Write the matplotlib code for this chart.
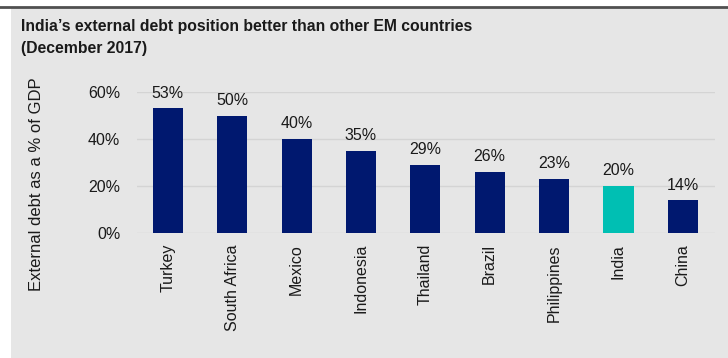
import matplotlib.pyplot as plt
from matplotlib.patches import Rectangle
from matplotlib.lines import Line2D

#---- data ----
countries = ['Turkey', 'South Africa', 'Mexico', 'Indonesia', 'Thailand',
             'Brazil', 'Philippines', 'India', 'China']
debt_pct = [53, 50, 40, 35, 29, 26, 23, 20, 14]
highlight = 'India'
yticks = [0, 20, 40, 60]

navy = '#00186f'
teal = '#00bfb3'
bg = '#e6e6e6'
txt = '#1a1a1a'

plt.rcParams['font.family'] = ['Liberation Sans', 'DejaVu Sans']

fig = plt.figure(figsize=(7.28, 3.58), dpi=100)
fig.patch.set_facecolor('white')

# grey panel + dark top rule
fig.patches.append(Rectangle((11/728, 0), 1 - 11/728, 1 - 8/358,
                             transform=fig.transFigure, facecolor=bg,
                             edgecolor='none', zorder=-10))
fig.lines.append(Line2D([0, 1], [1 - 7/358, 1 - 7/358], transform=fig.transFigure,
                        color='#505050', linewidth=2))

#---- title ----
fig.text(21/728, 1 - 31/358, "India\u2019s external debt position better than other EM countries",
         fontsize=11.3, fontweight='bold', color=txt, va='baseline', ha='left')
fig.text(21/728, 1 - 53/358, "(December 2017)",
         fontsize=11.3, fontweight='bold', color=txt, va='baseline', ha='left')

#---- bars ----
ax = fig.add_axes([137/728, 1 - 233/358, (715 - 137)/728, (233 - 92)/358])
ax.set_facecolor(bg)
colors = [teal if c == highlight else navy for c in countries]
x = range(len(countries))
ax.bar(x, debt_pct, width=0.47, color=colors, zorder=3)

for xi, v in zip(x, debt_pct):
    ax.text(xi, v + 3.2, f'{v}%', ha='center', va='bottom', fontsize=11.5,
            color=txt, clip_on=False)

ax.set_ylim(0, 60)
ax.set_xlim(-0.48, len(countries) - 0.5)
ax.set_yticks(yticks)
ax.set_yticklabels([f'{t}%' for t in yticks], fontsize=11.5, color=txt)
ax.yaxis.grid(True, color='#d4d4d4', linewidth=1, zorder=0)
ax.set_xticks(list(x))
ax.set_xticklabels(countries, rotation=90, fontsize=11.5, color=txt)
ax.tick_params(axis='both', length=0)
ax.tick_params(axis='y', pad=12)
ax.tick_params(axis='x', pad=8)
for s in ax.spines.values():
    s.set_visible(False)

fig.text(37/728, 1 - 184/358, 'External debt as a % of GDP', rotation=90,
         fontsize=12, color=txt, ha='center', va='center')

fig.savefig('out.png', dpi=100, facecolor=fig.get_facecolor())
